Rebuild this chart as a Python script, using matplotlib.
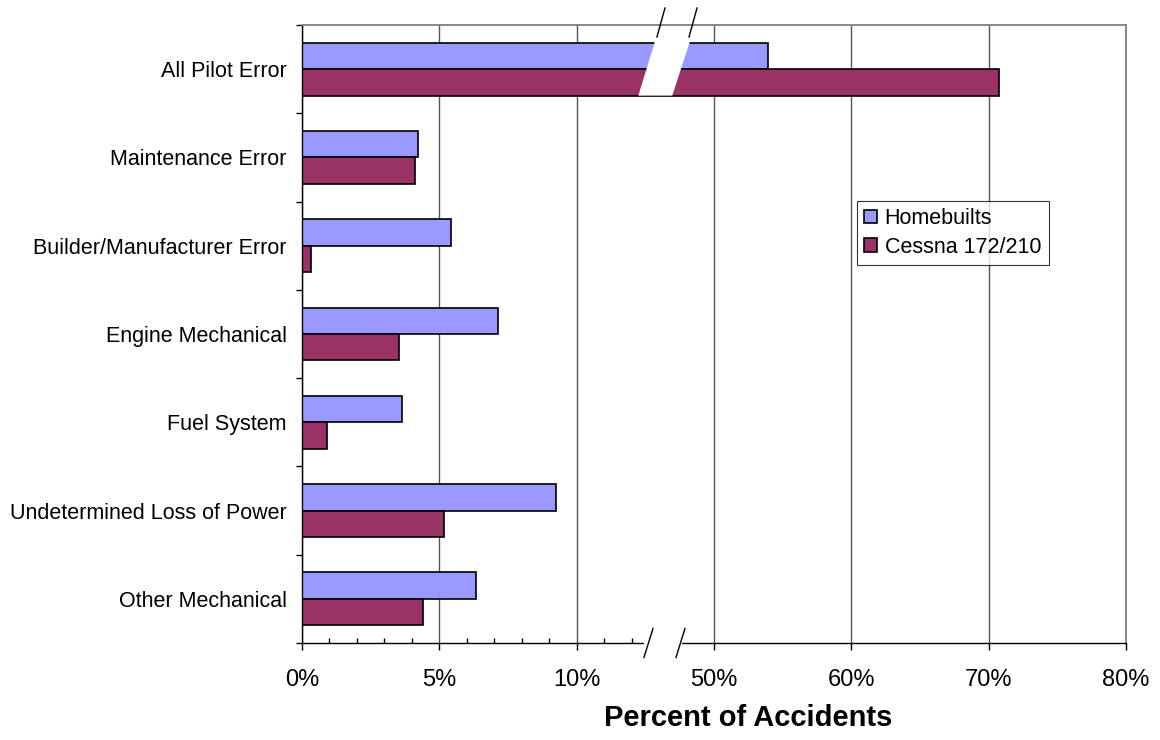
import numpy as np
import matplotlib
matplotlib.use("Agg")
import matplotlib.pyplot as plt
from matplotlib.patches import Polygon

plt.rcParams['font.family'] = ['Liberation Sans', 'DejaVu Sans']

# data (percent of accidents)
categories = ['All Pilot Error', 'Maintenance Error', 'Builder/Manufacturer Error',
              'Engine Mechanical', 'Fuel System', 'Undetermined Loss of Power',
              'Other Mechanical']
homebuilts = [53.9, 4.24, 5.42, 7.12, 3.65, 9.26, 6.33]
cessna = [70.75, 4.10, 0.33, 3.54, 0.90, 5.17, 4.40]
series_names = ['Homebuilts', 'Cessna 172/210']
x_ticks = [0, 5, 10, 50, 60, 70, 80]
x_minor = [1, 2, 3, 4, 6, 7, 8, 9, 11, 12]


# broken axis: 0-12.5% stretched, 12.5-50% squeezed, 50-80% normal
def fwd(v):
    v = np.asarray(v, dtype=float)
    return np.where(v <= 12.5, v / 5,
                    np.where(v < 50, 2.5 + (v - 12.5) / 75, 3 + (v - 50) / 10))


def inv(p):
    p = np.asarray(p, dtype=float)
    return np.where(p <= 2.5, p * 5,
                    np.where(p < 3, 12.5 + (p - 2.5) * 75, 50 + (p - 3) * 10))


fig = plt.figure(figsize=(11.6, 7.4), dpi=100)
ax = fig.add_axes([0.2603, 0.1311, 0.7104, 0.8351])
ax.set_xscale('function', functions=(fwd, inv))
ax.set_xlim(0, 80)

y = np.arange(len(categories))
h = 0.30
ax.barh(y - h / 2, homebuilts, height=h, color='#9999FF', edgecolor='black',
        linewidth=1.2, label=series_names[0], zorder=2)
ax.barh(y + h / 2, cessna, height=h, color='#993366', edgecolor='black',
        linewidth=1.2, label=series_names[1], zorder=2)
ax.set_ylim(len(categories) - 0.5, -0.5)

# ticks
ax.set_xticks(x_ticks)
ax.set_xticklabels([f'{t}%' for t in x_ticks], fontsize=17)
ax.set_xticks(x_minor, minor=True)
ax.tick_params(axis='x', which='major', direction='out', length=5, width=1, pad=14)
ax.tick_params(axis='x', which='minor', direction='in', length=3.6, width=1)

ax.set_yticks(y)
ax.set_yticklabels(categories, fontsize=15.5)
ax.set_yticks(np.arange(-0.5, len(categories)), minor=True)
ax.tick_params(axis='y', which='major', length=0, pad=11)
ax.tick_params(axis='y', which='minor', direction='out', length=4.5, width=1)

ax.set_axisbelow(True)
ax.grid(axis='x', which='major', color='#555555', linewidth=1.0)

for s in ['top', 'right']:
    ax.spines[s].set_color('#808080')
    ax.spines[s].set_linewidth(1.3)
for s in ['left', 'bottom']:
    ax.spines[s].set_color('black')
    ax.spines[s].set_linewidth(1.0)

# white gap through the pilot error bars
gap = Polygon([(0.4292, -0.34), (0.4082, 0.30), (0.4494, 0.30), (0.4717, -0.34)],
              closed=True, facecolor='white', edgecolor='none',
              transform=ax.get_yaxis_transform(), zorder=3)
ax.add_patch(gap)

# break marks
ax.plot([0.4175, 0.4587], [0, 0], color='white', linewidth=3,
        transform=ax.transAxes, clip_on=False, zorder=4)
for x0, x1 in [(0.4150, 0.4260), (0.4539, 0.4648)]:
    ax.plot([x0, x1], [-0.0235, 0.0235], color='black', linewidth=1.0,
            transform=ax.transAxes, clip_on=False, zorder=5)
for x0, x1 in [(0.4308, 0.4405), (0.4697, 0.4794)]:
    ax.plot([x0, x1], [0.9806, 1.0275], color='black', linewidth=1.0,
            transform=ax.transAxes, clip_on=False, zorder=5)

leg = ax.legend(loc='upper left', bbox_to_anchor=(0.673, 0.716), fontsize=15.5,
                frameon=True, fancybox=False, handlelength=0.6, handleheight=0.6,
                handletextpad=0.35, borderpad=0.35, labelspacing=0.35,
                borderaxespad=0)
leg.get_frame().set_edgecolor('black')
leg.get_frame().set_linewidth(0.8)

fig.text(0.645, 0.030, 'Percent of Accidents', fontsize=21, fontweight='bold',
         ha='center', va='center')

fig.savefig('out.png', dpi=100, facecolor='white')
